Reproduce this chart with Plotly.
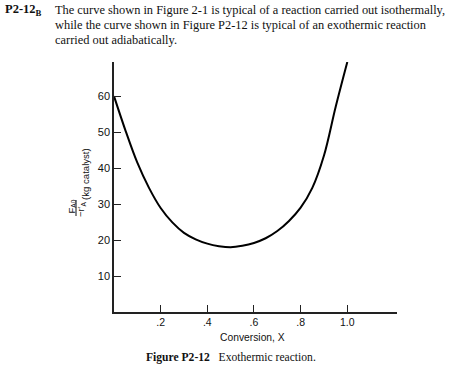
import plotly.graph_objects as go

# Data
conversion = [0.0, 0.05, 0.1, 0.15, 0.2, 0.25, 0.3, 0.35, 0.4, 0.45, 0.5,
              0.55, 0.6, 0.65, 0.7, 0.75, 0.8, 0.85, 0.9, 0.95, 1.0]
levenspiel = [60.0, 50.3, 41.5, 34.5, 28.9, 24.9, 22.0, 20.2, 19.0, 18.3, 18.0,
              18.4, 19.2, 20.5, 22.5, 25.3, 29.0, 34.5, 43.5, 57.0, 69.5]
x_tick_vals = [0.2, 0.4, 0.6, 0.8, 1.0]
x_tick_text = [".2", ".4", ".6", ".8", "1.0"]
y_tick_vals = [10, 20, 30, 40, 50, 60]
y_tick_text = ["10", "20", "30", "40", "50", "60"]

W, H = 466, 368
L, R, T, B = 114, 69, 62, 56
pw, ph = W - L - R, H - T - B


def px(xp):
    return (xp - L) / pw


def py(yp):
    return (H - B - yp) / ph


fig = go.Figure()
fig.add_trace(go.Scatter(
    x=conversion, y=levenspiel, mode="lines",
    line=dict(color="black", width=2, shape="spline", smoothing=1.0),
    hoverinfo="skip", showlegend=False,
))

sans = "Liberation Sans, Arial, sans-serif"
serif = "Liberation Serif, Times New Roman, serif"

fig.update_layout(
    width=W, height=H,
    margin=dict(l=L, r=R, t=T, b=B, pad=0),
    paper_bgcolor="white", plot_bgcolor="white",
    xaxis=dict(range=[0, 1.213], showgrid=False, zeroline=False,
               showline=True, linecolor="#222", linewidth=1.5,
               ticks="inside", ticklen=7, tickwidth=1.2, tickcolor="#222",
               tickvals=x_tick_vals, ticktext=x_tick_text,
               tickfont=dict(family=sans, size=10.5, color="#111")),
    yaxis=dict(range=[0, 69.5], showgrid=False, zeroline=False,
               showline=True, linecolor="#222", linewidth=1.5,
               ticks="inside", ticklen=7, tickwidth=1.2, tickcolor="#222",
               tickvals=y_tick_vals, ticktext=y_tick_text,
               tickfont=dict(family=sans, size=11, color="#111")),
)

ann = []
# x-axis title
ann.append(dict(text="Conversion, X", x=px(252), y=py(337), xref="paper", yref="paper",
                showarrow=False, font=dict(family=sans, size=10.3, color="#111"),
                xanchor="center", yanchor="middle"))
# caption
ann.append(dict(text="<b>Figure P2-12</b>   Exothermic reaction.", x=px(144), y=py(357),
                xref="paper", yref="paper", showarrow=False,
                font=dict(family=serif, size=11.6, color="#111"),
                xanchor="left", yanchor="middle"))
# y-axis title parts
ann.append(dict(text="F<sub>A0</sub>", x=px(71.5), y=py(207), xref="paper", yref="paper",
                showarrow=False, textangle=-90, font=dict(family=sans, size=9.5, color="#111"),
                xanchor="center", yanchor="middle"))
ann.append(dict(text="−r′<sub>A</sub>", x=px(81), y=py(209), xref="paper", yref="paper",
                showarrow=False, textangle=-90, font=dict(family=sans, size=9.5, color="#111"),
                xanchor="center", yanchor="middle"))
ann.append(dict(text="(kg catalyst)", x=px(85), y=py(174), xref="paper", yref="paper",
                showarrow=False, textangle=-90, font=dict(family=sans, size=9.6, color="#111"),
                xanchor="center", yanchor="middle"))
# header text
ann.append(dict(text="<b>P2-12<sub>B</sub></b>", x=px(3), y=py(10), xref="paper", yref="paper",
                showarrow=False, font=dict(family=serif, size=12.5, color="#111"),
                xanchor="left", yanchor="middle"))
lines = [
    "The curve shown in Figure 2-1 is typical of a reaction carried out isothermally,",
    "while the curve shown in Figure P2-12 is typical of an exothermic reaction",
    "carried out adiabatically.",
]
for i, t in enumerate(lines):
    ann.append(dict(text=t, x=px(53), y=py(10 + 15 * i), xref="paper", yref="paper",
                    showarrow=False, font=dict(family=serif, size=12.4, color="#111"),
                    xanchor="left", yanchor="middle"))
fig.update_layout(annotations=ann)

fig.add_shape(type="line", xref="paper", yref="paper",
              x0=px(76), x1=px(76), y0=py(200), y1=py(216),
              line=dict(color="#111", width=1))

fig.write_html("out.html", config={"displayModeBar": False},
               post_script="document.body.style.margin='0';document.body.style.overflow='hidden';")
